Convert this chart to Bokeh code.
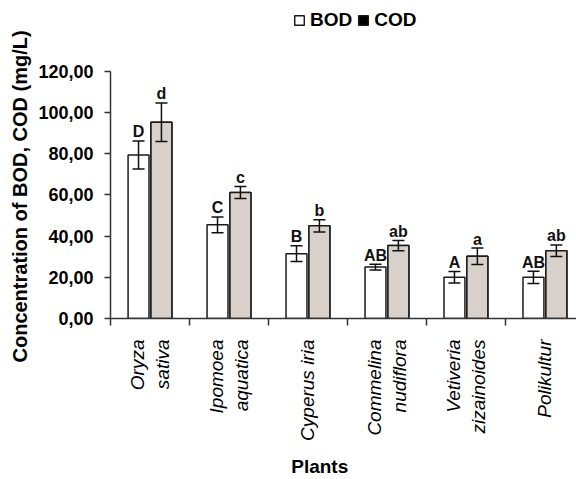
from math import pi
from bokeh.plotting import figure
from bokeh.models import (Range1d, FixedTicker, Whisker, TeeHead, ColumnDataSource,
                          Legend, LegendItem, Title)
from bokeh.core.properties import value
from bokeh.embed import file_html
from bokeh.resources import INLINE

# ---- data ----
categories = ["Oryza sativa", "Ipomoea aquatica", "Cyperus iria",
              "Commelina nudiflora", "Vetiveria zizainoides", "Polikultur"]
category_labels = ["Oryza\nsativa", "Ipomoea\naquatica", "Cyperus iria",
                   "Commelina\nnudiflora", "Vetiveria\nzizainoides", "Polikultur"]
bod = [79.4, 45.5, 31.5, 25.0, 20.0, 20.0]
bod_err = [6.8, 3.8, 3.8, 1.4, 2.8, 3.0]
cod = [95.3, 61.2, 45.0, 35.4, 30.2, 32.9]
cod_err = [9.4, 2.9, 3.0, 2.5, 4.0, 2.8]
bod_letters = ["D", "C", "B", "AB", "A", "AB"]
cod_letters = ["d", "c", "b", "ab", "a", "ab"]
y_ticks = [0, 20, 40, 60, 80, 100, 120]
y_tick_labels = ["0,00", "20,00", "40,00", "60,00", "80,00", "100,00", "120,00"]
y_title = "Concentration of BOD, COD (mg/L)"
x_title = "Plants"

FONT = "Liberation Sans"
BAR_W = 0.265
OFF = 0.145
NBSP = "\u00a0"

idx = list(range(len(categories)))
xb = [i - OFF for i in idx]
xc = [i + OFF for i in idx]

p = figure(width=576, height=479, output_backend="svg", toolbar_location=None,
           x_range=Range1d(-0.5, 5.4), y_range=Range1d(0, 152),
           min_border_left=110, min_border_right=0, min_border_top=5,
           min_border_bottom=160)
p.outline_line_color = None
p.xgrid.grid_line_color = None
p.ygrid.grid_line_color = None
p.background_fill_color = "white"

# bars
bod_src = ColumnDataSource(dict(x=xb, top=bod, lo=[v - e for v, e in zip(bod, bod_err)],
                                hi=[v + e for v, e in zip(bod, bod_err)], lab=bod_letters))
cod_src = ColumnDataSource(dict(x=xc, top=cod, lo=[v - e for v, e in zip(cod, cod_err)],
                                hi=[v + e for v, e in zip(cod, cod_err)], lab=cod_letters))

bod_r = p.vbar(x="x", top="top", bottom=0, width=BAR_W, source=bod_src,
               fill_color="white", line_color="#1a1a1a", line_width=1.5)
# black copy beneath the grey COD bars, used only for the legend swatch
cod_leg_r = p.vbar(x="x", top="top", bottom=0, width=BAR_W, source=cod_src,
                   fill_color="black", line_color="#1a1a1a", line_width=1.5)
cod_r = p.vbar(x="x", top="top", bottom=0, width=BAR_W, source=cod_src,
               fill_color="#d8d0ca", line_color="#1a1a1a", line_width=1.5)

for src in (bod_src, cod_src):
    w = Whisker(base="x", lower="lo", upper="hi", source=src, dimension="height",
                line_color="#111111", line_width=1.5,
                upper_head=TeeHead(size=12, line_color="#111111", line_width=1.5),
                lower_head=TeeHead(size=12, line_color="#111111", line_width=1.5))
    w.level = "overlay"
    p.add_layout(w)
    p.text(x="x", y="hi", text="lab", source=src, text_align="center",
           text_baseline="alphabetic", y_offset=-9, text_font=value(FONT),
           text_font_style="bold", text_font_size="16px", text_color="#111111")

# y axis
p.yaxis.bounds = (0, 120)
p.yaxis.ticker = FixedTicker(ticks=y_ticks)
p.yaxis.major_label_overrides = {t: l for t, l in zip(y_ticks, y_tick_labels)}
p.yaxis.major_label_text_font = FONT
p.yaxis.major_label_text_font_style = "bold"
p.yaxis.major_label_text_font_size = "18px"
p.yaxis.major_label_text_color = "black"
p.yaxis.major_label_standoff = 11
p.yaxis.major_tick_out = 6
p.yaxis.major_tick_in = 0
p.yaxis.minor_tick_line_color = None
p.yaxis.axis_line_width = 1.5
p.yaxis.axis_line_color = "#333333"
p.yaxis.major_tick_line_color = "#333333"
p.yaxis.major_tick_line_width = 1.5

ytitle = Title(text=y_title, align="left", offset=-44, text_font=FONT,
               text_font_style="bold", text_font_size="20px", text_color="black",
               standoff=10)
p.add_layout(ytitle, "left")

# x axis: labels at category centres, minor ticks at boundaries
p.xaxis.ticker = FixedTicker(ticks=idx, minor_ticks=[i - 0.5 for i in idx])
p.xaxis.major_label_overrides = {i: l for i, l in zip(idx, category_labels)}
p.xaxis.major_label_orientation = pi / 2
p.xaxis.major_label_text_font = FONT
p.xaxis.major_label_text_font_style = "italic"
p.xaxis.major_label_text_font_size = "19px"
p.xaxis.major_label_text_line_height = 1.2
p.xaxis.major_label_text_color = "black"
p.xaxis.major_label_standoff = 14
p.xaxis.major_tick_out = 0
p.xaxis.major_tick_in = 0
p.xaxis.major_tick_line_color = None
p.xaxis.minor_tick_out = 7
p.xaxis.minor_tick_in = 0
p.xaxis.minor_tick_line_color = "#333333"
p.xaxis.minor_tick_line_width = 1.5
p.xaxis.axis_line_width = 1.5
p.xaxis.axis_line_color = "#333333"
p.xaxis.axis_label = x_title + NBSP * 9
p.xaxis.axis_label_text_font = FONT
p.xaxis.axis_label_text_font_style = "bold"
p.xaxis.axis_label_text_font_size = "19px"
p.xaxis.axis_label_text_color = "black"
p.xaxis.axis_label_standoff = 12

legend = Legend(items=[LegendItem(label="BOD", renderers=[bod_r]),
                       LegendItem(label="COD", renderers=[cod_leg_r])],
                location=(183, 287), orientation="horizontal",
                border_line_color=None, background_fill_alpha=0,
                padding=0, margin=0, spacing=5, label_standoff=5,
                glyph_width=12, glyph_height=12,
                label_text_font=FONT, label_text_font_style="bold",
                label_text_font_size="19px", label_text_color="black")
p.add_layout(legend)

open("out.html", "w").write(file_html(p, INLINE))
